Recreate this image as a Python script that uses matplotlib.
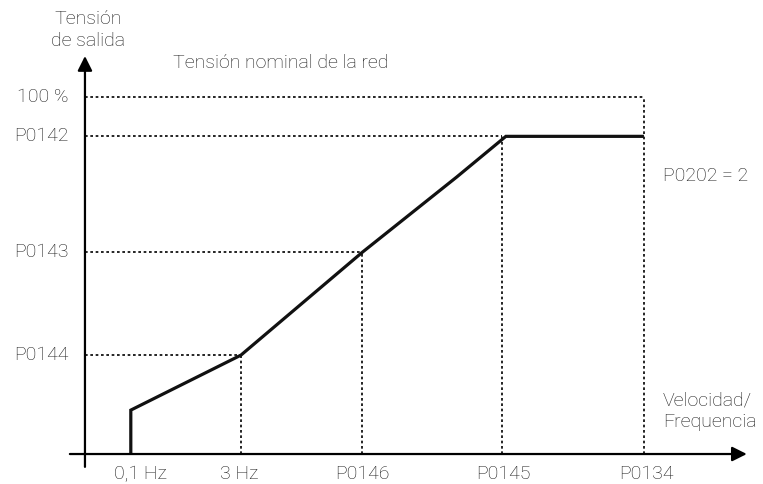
import matplotlib.pyplot as plt

plt.rcParams['font.family'] = ['Roboto', 'DejaVu Sans']

# frequency axis, in % of P0134
freq_labels = ['0,1 Hz', '3 Hz', 'P0146', 'P0145', 'P0134']
freq_vals = [8.2, 27.9, 49.6, 74.6, 100.0]

# voltage axis, in % of nominal
volt_labels = ['100 %', 'P0142', 'P0143', 'P0144']
volt_vals = [100.0, 89.0, 56.5, 27.7]

# V/f curve
curve_x = [8.2, 8.2, 27.9, 49.6, 66.5, 75.3, 100.0]
curve_y = [0.0, 12.3, 27.7, 56.5, 77.6, 89.0, 89.0]

txt = '#1a1a1a'
fs = 14

fig = plt.figure(figsize=(7.63, 4.84), dpi=100)
ax = fig.add_axes([0, 0, 1, 1])
ax.set_xlim(-15.2, 121.3)
ax.set_ylim(-8.4, 127.2)
ax.axis('off')

# axes with arrows
arrow = dict(arrowstyle='-|>', mutation_scale=22, lw=1.6, color='black',
             shrinkA=0, shrinkB=0)
ax.annotate('', xy=(118.4, 0), xytext=(-2.7, 0), arrowprops=arrow)
ax.annotate('', xy=(0, 111.5), xytext=(0, -3.6), arrowprops=arrow)

# dotted guides
dot = dict(color='black', lw=1.2, ls=(0, (1.6, 1.6)))
# 100 % line and P0134 vertical
ax.plot([0, freq_vals[4]], [volt_vals[0], volt_vals[0]], **dot)
ax.plot([freq_vals[4], freq_vals[4]], [0, volt_vals[0]], **dot)
# P0142 / P0145
ax.plot([0, freq_vals[3]], [volt_vals[1], volt_vals[1]], **dot)
ax.plot([freq_vals[3], freq_vals[3]], [0, volt_vals[1]], **dot)
# P0143 / P0146
ax.plot([0, freq_vals[2]], [volt_vals[2], volt_vals[2]], **dot)
ax.plot([freq_vals[2], freq_vals[2]], [0, volt_vals[2]], **dot)
# P0144 / 3 Hz
ax.plot([0, freq_vals[1]], [volt_vals[3], volt_vals[3]], **dot)
ax.plot([freq_vals[1], freq_vals[1]], [0, volt_vals[3]], **dot)

# curve
ax.plot(curve_x, curve_y, color='#111111', lw=2.3, solid_joinstyle='miter',
        solid_capstyle='butt')

# labels
for lab, v in zip(volt_labels, volt_vals):
    ax.text(-3.0, v, lab, ha='right', va='center', fontsize=fs, color=txt,
            fontweight='light')
offsets = [1.8, -0.3, 0.0, 0.3, 0.5]
for lab, f, o in zip(freq_labels, freq_vals, offsets):
    ax.text(f + o, -5.6, lab, ha='center', va='center', fontsize=fs, color=txt,
            fontweight='light')

ax.text(0.5, 118.8, 'Tensión\nde salida', ha='center', va='center',
        fontsize=fs, color=txt, linespacing=1.3, fontweight='light')
ax.text(15.8, 109.5, 'Tensión nominal de la red', ha='left', va='center',
        fontsize=fs, color=txt, fontweight='light')
ax.text(103.4, 78.0, 'P0202 = 2', ha='left', va='center', fontsize=fs,
        color=txt, fontweight='light')
ax.text(103.4, 12.0, 'Velocidad/\nFrequencia', ha='left', va='center',
        fontsize=fs, color=txt, linespacing=1.3, fontweight='light')

fig.savefig('out.png', dpi=100)
